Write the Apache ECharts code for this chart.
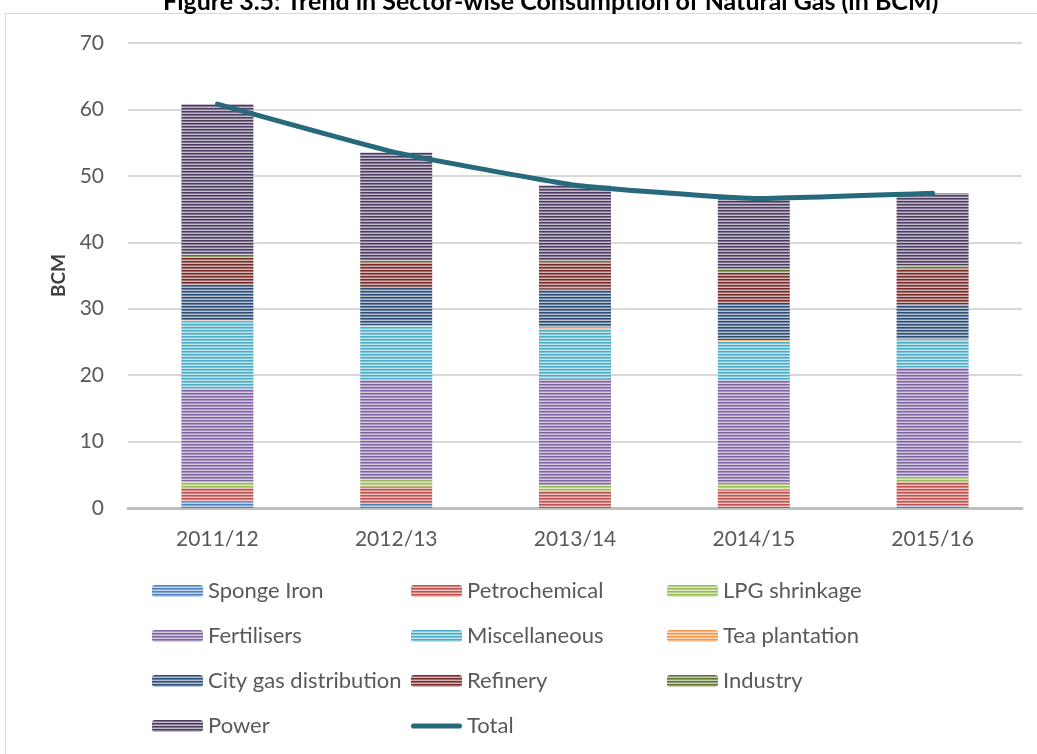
<!DOCTYPE html>
<html>
<head>
<meta charset="utf-8">
<script src="https://cdn.jsdelivr.net/npm/echarts@6/dist/echarts.min.js"></script>
<style>
  html, body { margin: 0; padding: 0; background: #fff; }
  #chart { width: 1037px; height: 754px; }
</style>
</head>
<body>
<div id="chart"></div>
<script>
// values (BCM)
const years = ['2011/12', '2012/13', '2013/14', '2014/15', '2015/16']
const spongeIron = [1.0, 0.75, 0, 0, 0.35]
const petrochemical = [2.0, 2.5, 2.6, 2.8, 3.65]
const lpgShrinkage = [1.0, 1.0, 0.9, 0.85, 0.75]
const fertilisers = [14.0, 15.1, 16.0, 15.6, 16.4]
const miscellaneous = [10.0, 8.0, 7.5, 5.8, 4.1]
const teaPlantation = [0.25, 0.15, 0.25, 0.25, 0.2]
const cityGas = [5.4, 5.6, 5.75, 5.4, 5.2]
const refinery = [4.1, 3.9, 4.0, 4.7, 5.4]
const industry = [0.4, 0.3, 0.35, 0.6, 0.5]
const power = [22.65, 16.2, 11.25, 10.6, 10.85]
const total = [60.8, 53.5, 48.6, 46.6, 47.4]
const yTicks = [0, 10, 20, 30, 40, 50, 60, 70]

const FONT = 'Lato, "Open Sans", sans-serif'

// mix a hex colour with white
function tint(hex, amt) {
  const n = parseInt(hex.slice(1), 16)
  const r = (n >> 16) & 255, g = (n >> 8) & 255, b = n & 255
  const m = v => Math.round(v + (255 - v) * amt)
  return 'rgb(' + m(r) + ',' + m(g) + ',' + m(b) + ')'
}

// horizontal stripe texture like the excel fill
function stripes(hex) {
  const c = document.createElement('canvas')
  c.width = 4
  c.height = 3
  const g = c.getContext('2d')
  g.fillStyle = hex
  g.fillRect(0, 0, 4, 1)
  g.fillStyle = tint(hex, 0.3)
  g.fillRect(0, 1, 4, 1)
  g.fillStyle = tint(hex, 0.65)
  g.fillRect(0, 2, 4, 1)
  return { image: c, repeat: 'repeat' }
}

const sectors = [
  ['Sponge Iron', spongeIron, '#4F81BD'],
  ['Petrochemical', petrochemical, '#C0504D'],
  ['LPG shrinkage', lpgShrinkage, '#9BBB59'],
  ['Fertilisers', fertilisers, '#8064A2'],
  ['Miscellaneous', miscellaneous, '#4BACC6'],
  ['Tea plantation', teaPlantation, '#F79646'],
  ['City gas distribution', cityGas, '#2C4D75'],
  ['Refinery', refinery, '#772C2A'],
  ['Industry', industry, '#5F7530'],
  ['Power', power, '#4D3B62']
]

const series = sectors.map(([name, data, color]) => ({
  name: name,
  type: 'bar',
  stack: 'gas',
  barWidth: 72,
  data: data,
  itemStyle: { color: stripes(color) }
}))

series.push({
  name: 'Total',
  type: 'line',
  data: total,
  smooth: 0.12,
  symbol: 'none',
  z: 5,
  lineStyle: { color: '#276A7C', width: 5, cap: 'round' },
  itemStyle: { color: '#276A7C' }
})

// thick rounded line used as the Total legend key
const lineIcon = 'path://M3,0 L57,0 A3,3 0 0 1 57,6 L3,6 A3,3 0 0 1 3,0 Z'

const legendText = { color: '#595959', fontSize: 22, fontFamily: FONT, lineHeight: 24 }
const legendBase = {
  orient: 'vertical',
  padding: 0,
  itemWidth: 51,
  itemHeight: 12,
  itemGap: 21,
  textStyle: legendText,
  top: 579,
  selectedMode: false
}

const chart = echarts.init(document.getElementById('chart'))
chart.setOption({
  animation: false,
  title: {
    text: 'Figure 3.5: Trend in Sector-wise Consumption of Natural Gas (in BCM)',
    left: 163,
    top: -11,
    padding: 0,
    textStyle: { fontFamily: FONT, fontWeight: 'bold', fontSize: 25, color: '#000' }
  },
  graphic: [{
    type: 'rect',
    shape: { x: 5.5, y: 13.5, width: 1040, height: 760 },
    style: { fill: 'none', stroke: '#d9d9d9', lineWidth: 1 },
    silent: true
  }],
  grid: { left: 128, right: 15, top: 43, bottom: 246 },
  legend: [
    Object.assign({}, legendBase, { left: 152, data: ['Sponge Iron', 'Fertilisers', 'City gas distribution', 'Power'] }),
    Object.assign({}, legendBase, { left: 411, data: ['Petrochemical', 'Miscellaneous', 'Refinery', { name: 'Total', icon: lineIcon }] }),
    Object.assign({}, legendBase, { left: 667, data: ['LPG shrinkage', 'Tea plantation', 'Industry'] })
  ],
  xAxis: {
    type: 'category',
    data: years,
    axisTick: { show: false },
    axisLine: { lineStyle: { color: '#bfbfbf', width: 3 } },
    axisLabel: { color: '#595959', fontSize: 21, fontFamily: FONT, margin: 21 }
  },
  yAxis: {
    type: 'value',
    min: yTicks[0],
    max: yTicks[yTicks.length - 1],
    interval: 10,
    name: 'BCM',
    nameLocation: 'middle',
    nameGap: 60,
    nameTextStyle: { fontFamily: FONT, fontWeight: 'bold', fontSize: 19, color: '#404040' },
    axisLine: { show: false },
    axisTick: { show: false },
    axisLabel: { color: '#595959', fontSize: 21, fontFamily: FONT, margin: 24 },
    splitLine: { lineStyle: { color: '#d9d9d9', width: 2 } }
  },
  series: series
})
</script>
</body>
</html>
